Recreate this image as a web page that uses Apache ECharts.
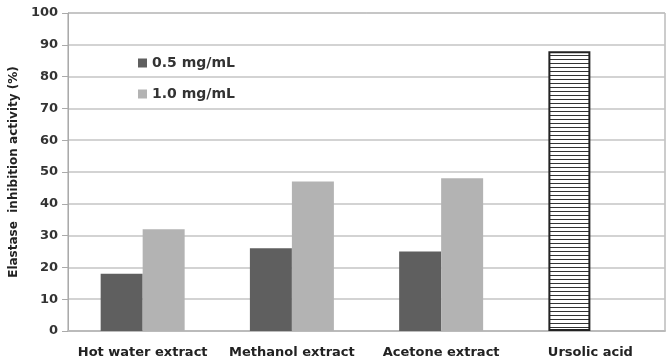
<!DOCTYPE html>
<html>
<head>
<meta charset="utf-8">
<script src="https://cdn.jsdelivr.net/npm/echarts@6/dist/echarts.min.js"></script>
<style>
  html, body { margin: 0; padding: 0; background: #fff; }
  #chart { width: 672px; height: 363px; }
</style>
</head>
<body>
<div id="chart"></div>
<script>
  const categories = ['Hot water extract', 'Methanol extract', 'Acetone extract', 'Ursolic acid']
  const low = [18, 26, 25, null]
  const high = [32, 47, 48, null]
  const ursolic = [null, null, null, 88]
  const seriesNames = ['0.5 mg/mL', '1.0 mg/mL']

  // horizontal hatch for the reference compound
  const hatch = document.createElement('canvas')
  hatch.width = 4
  hatch.height = 4
  const ctx = hatch.getContext('2d')
  ctx.fillStyle = '#fff'
  ctx.fillRect(0, 0, 4, 4)
  ctx.fillStyle = '#333'
  ctx.fillRect(0, 3, 4, 1)

  const myChart = echarts.init(document.getElementById('chart'))
  const font = '"DejaVu Sans", sans-serif'

  const option = {
    animation: false,
    backgroundColor: '#fff',
    textStyle: { fontFamily: font },
    legend: {
      orient: 'vertical',
      left: 133,
      top: 51,
      itemGap: 17,
      itemWidth: 9,
      itemHeight: 9,
      icon: 'rect',
      data: seriesNames,
      textStyle: { fontSize: 14, fontWeight: 'bold', color: '#333', fontFamily: font }
    },
    grid: {
      left: 68,
      right: 7,
      top: 13,
      bottom: 32,
      show: true,
      borderColor: '#999',
      borderWidth: 1
    },
    xAxis: {
      type: 'category',
      data: categories,
      axisTick: { show: false },
      axisLine: { lineStyle: { color: '#bbb', width: 2 } },
      axisLabel: {
        interval: 0,
        margin: 15,
        fontSize: 13,
        fontWeight: 'bold',
        color: '#222',
        fontFamily: font
      }
    },
    yAxis: {
      type: 'value',
      min: 0,
      max: 100,
      interval: 10,
      name: 'Elastase  inhibition activity (%)',
      nameLocation: 'middle',
      nameGap: 47,
      nameTextStyle: { fontSize: 12, fontWeight: 'bold', color: '#222', fontFamily: font },
      axisLine: { show: true, lineStyle: { color: '#aaa' } },
      axisTick: { show: true, length: 6, lineStyle: { color: '#aaa' } },
      splitLine: { lineStyle: { color: '#c4c4c4', width: 1.5 } },
      axisLabel: { fontSize: 13, fontWeight: 'bold', color: '#333', margin: 10, fontFamily: font }
    },
    series: [
      {
        name: seriesNames[0],
        type: 'bar',
        stack: 'first',
        data: low,
        barWidth: 42,
        barGap: '0%',
        itemStyle: { color: '#5f5f5f' }
      },
      {
        name: seriesNames[1],
        type: 'bar',
        data: high,
        barWidth: 42,
        barGap: '0%',
        itemStyle: { color: '#b3b3b3' }
      },
      {
        name: 'Ursolic acid',
        type: 'bar',
        stack: 'first',
        data: ursolic,
        barWidth: 42,
        barGap: '0%',
        itemStyle: {
          color: { image: hatch, repeat: 'repeat' },
          borderColor: '#222',
          borderWidth: 2
        }
      }
    ]
  }

  myChart.setOption(option)
</script>
</body>
</html>
